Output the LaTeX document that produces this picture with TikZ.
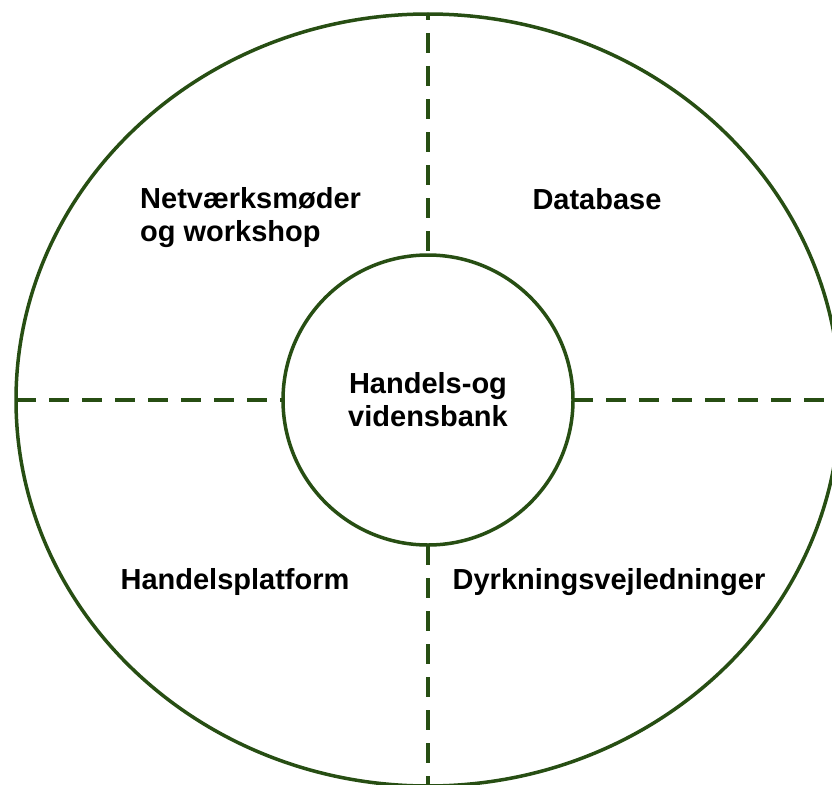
\documentclass[tikz,border=0pt]{standalone}
\usepackage{fontspec}
\setmainfont{Liberation Sans}
\usetikzlibrary{shapes.geometric}
\definecolor{leafgreen}{HTML}{274E13}
\begin{document}
\begin{tikzpicture}[x=1pt,y=-1pt,
  ring/.style={draw=leafgreen, line width=3.5pt, inner sep=0pt, outer sep=0pt},
  divider/.style={draw=leafgreen, line width=3.5pt, dash pattern=on 20pt off 13pt},
  qtext/.style={font=\bfseries\fontsize{29}{33}\selectfont, inner sep=0pt}]
\useasboundingbox (0,0) rectangle (832,784);

% outer ring and central hub
\node[ring, ellipse, minimum width=824pt, minimum height=772pt] (outer) at (428,400) {};
\node[ring, circle, minimum size=290pt, align=center, qtext] (hub) at (428,400) {Handels-og\\vidensbank};

% dashed quadrant dividers
\draw[divider, dash phase=14pt] (outer.north) -- (hub.north);
\draw[divider] (hub.south) -- (outer.south);
\draw[divider] (outer.west) -- (hub.west);
\draw[divider] (hub.east) -- (outer.east);

% quadrant labels
\node[qtext, anchor=base west, align=left] (net) at (140,241) {Netværksmøder\\og workshop};
\node[qtext, anchor=base] (db) at (597,209) {Database};
\node[qtext, anchor=base] (plat) at (235,589) {Handelsplatform};
\node[qtext, anchor=base] (dyrk) at (609,589) {Dyrkningsvejledninger};
\end{tikzpicture}
\end{document}
